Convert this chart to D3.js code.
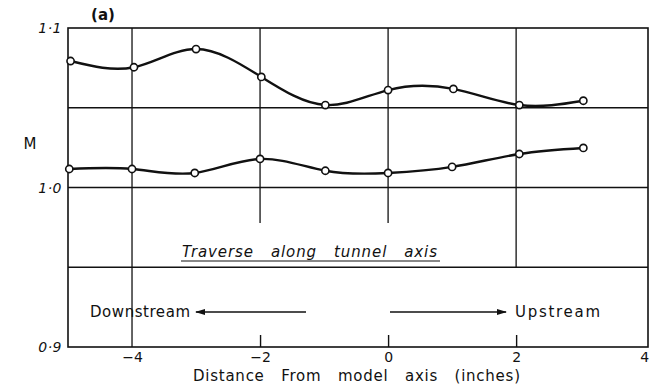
<!DOCTYPE html>
<html>
<head>
<meta charset="utf-8">
<script src="https://cdn.jsdelivr.net/npm/d3@7"></script>
<style>
  html, body { margin: 0; padding: 0; background: #fff; }
  svg { display: block; }
  text { font-family: "DejaVu Sans", sans-serif; fill: #111; }
</style>
</head>
<body>
<svg id="chart" width="653" height="390"></svg>
<script>
// Traverse positions (inches from model axis)
const upperX = [-4.96, -3.97, -3.0, -1.98, -0.98, 0.0, 1.02, 2.05, 3.05];
const upperM = [1.0793, 1.0754, 1.0868, 1.0693, 1.0517, 1.0611, 1.0618, 1.0517, 1.0544];
const lowerX = [-4.98, -4.0, -3.02, -2.0, -0.98, 0.0, 1.0, 2.05, 3.05];
const lowerM = [1.0116, 1.0116, 1.0091, 1.0179, 1.0105, 1.0091, 1.0129, 1.0210, 1.0248];

const xTicks = [-4, -2, 0, 2, 4];
const xTickLabels = ["\u22124", "\u22122", "0", "2", "4"];
const yTicks = [0.9, 1.0, 1.1];
const yTickLabels = ["0\u00b79", "1\u00b70", "1\u00b71"];
const yGrid = [0.95, 1.0, 1.05];

const svg = d3.select("#chart");
const x = d3.scaleLinear().domain([-5, 4.06]).range([68, 648]);
const y = d3.scaleLinear().domain([0.9, 1.1]).range([347, 28]);

const ink = "#111";
const g = svg.append("g");

// frame
g.append("rect")
  .attr("x", x(-5)).attr("y", y(1.1))
  .attr("width", x(4.06) - x(-5)).attr("height", y(0.9) - y(1.1))
  .attr("fill", "none").attr("stroke", ink).attr("stroke-width", 1.6);

// horizontal grid lines
g.selectAll(".hgrid").data(yGrid).join("line")
  .attr("x1", x(-5)).attr("x2", x(4.06))
  .attr("y1", d => y(d)).attr("y2", d => y(d))
  .attr("stroke", ink).attr("stroke-width", 1.4);

// vertical grid lines, each running down to a different depth
const vGrid = [
  { v: -4, bottom: 0.9 },
  { v: -2, bottom: 0.9777 },
  { v: 0, bottom: 0.9777 },
  { v: 2, bottom: 0.95 }
];
g.selectAll(".vgrid").data(vGrid).join("line")
  .attr("x1", d => x(d.v)).attr("x2", d => x(d.v))
  .attr("y1", y(1.1)).attr("y2", d => y(d.bottom))
  .attr("stroke", ink).attr("stroke-width", 1.3);

// bottom axis with upward ticks
const xAxis = d3.axisBottom(x).tickValues(xTicks)
  .tickFormat((d, i) => xTickLabels[i]).tickSize(-12).tickPadding(5);
const ax = g.append("g").attr("transform", `translate(0,${y(0.9)})`).call(xAxis);
ax.select(".domain").remove();
ax.selectAll(".tick line").attr("stroke", ink).attr("stroke-width", 1.4)
  .attr("opacity", d => (d === 4 || d === -4) ? 0 : 1);
ax.selectAll(".tick text").attr("font-size", 14).attr("fill", ink)
  .style("font-family", "DejaVu Sans, sans-serif");

// left axis labels
g.selectAll(".ylab").data(yTicks).join("text")
  .attr("x", 62).attr("y", d => y(d) + 5)
  .attr("text-anchor", "end").attr("font-size", 14).attr("font-style", "italic")
  .attr("letter-spacing", 0.5)
  .text((d, i) => yTickLabels[i]);

g.append("text").attr("x", 30).attr("y", 149).attr("text-anchor", "middle")
  .attr("font-size", 15).text("M");

g.append("text").attr("x", 103).attr("y", 20).attr("text-anchor", "middle")
  .attr("font-size", 15).attr("font-weight", "bold").text("(a)");

// curves
const line = d3.line().x(d => x(d[0])).y(d => y(d[1])).curve(d3.curveNatural);
const series = [d3.zip(upperX, upperM), d3.zip(lowerX, lowerM)];
g.selectAll(".curve").data(series).join("path")
  .attr("d", line).attr("fill", "none")
  .attr("stroke", ink).attr("stroke-width", 2.4);

series.forEach(s => {
  g.selectAll(null).data(s).join("circle")
    .attr("cx", d => x(d[0])).attr("cy", d => y(d[1])).attr("r", 3.6)
    .attr("fill", "#fff").attr("stroke", ink).attr("stroke-width", 1.6);
});

// annotation: traverse label
g.append("text").attr("x", 182).attr("y", 257)
  .attr("font-size", 15).attr("font-style", "italic")
  .style("white-space", "pre")
  .attr("textLength", 255).attr("lengthAdjust", "spacing")
  .text("Traverse   along   tunnel   axis");
g.append("line").attr("x1", 181).attr("x2", 440).attr("y1", 261).attr("y2", 261)
  .attr("stroke", ink).attr("stroke-width", 1.2);

// direction arrows
svg.append("defs").append("marker")
  .attr("id", "head").attr("viewBox", "0 0 10 6").attr("refX", 9).attr("refY", 3)
  .attr("markerWidth", 10).attr("markerHeight", 6).attr("markerUnits", "userSpaceOnUse")
  .attr("orient", "auto")
  .append("path").attr("d", "M0,0L10,3L0,6Z").attr("fill", ink);

g.append("text").attr("x", 90).attr("y", 317).attr("font-size", 15)
  .attr("textLength", 100).attr("lengthAdjust", "spacing").text("Downstream");
g.append("line").attr("x1", 306).attr("x2", 196).attr("y1", 312).attr("y2", 312)
  .attr("stroke", ink).attr("stroke-width", 1.3).attr("marker-end", "url(#head)");
g.append("line").attr("x1", 390).attr("x2", 506).attr("y1", 312).attr("y2", 312)
  .attr("stroke", ink).attr("stroke-width", 1.3).attr("marker-end", "url(#head)");
g.append("text").attr("x", 515).attr("y", 317).attr("font-size", 15)
  .attr("textLength", 85).attr("lengthAdjust", "spacing").text("Upstream");

// x axis title
g.append("text").attr("x", 193).attr("y", 381)
  .attr("font-size", 15).style("white-space", "pre")
  .attr("textLength", 327).attr("lengthAdjust", "spacing")
  .text("Distance   From   model   axis   (inches)");
</script>
</body>
</html>
